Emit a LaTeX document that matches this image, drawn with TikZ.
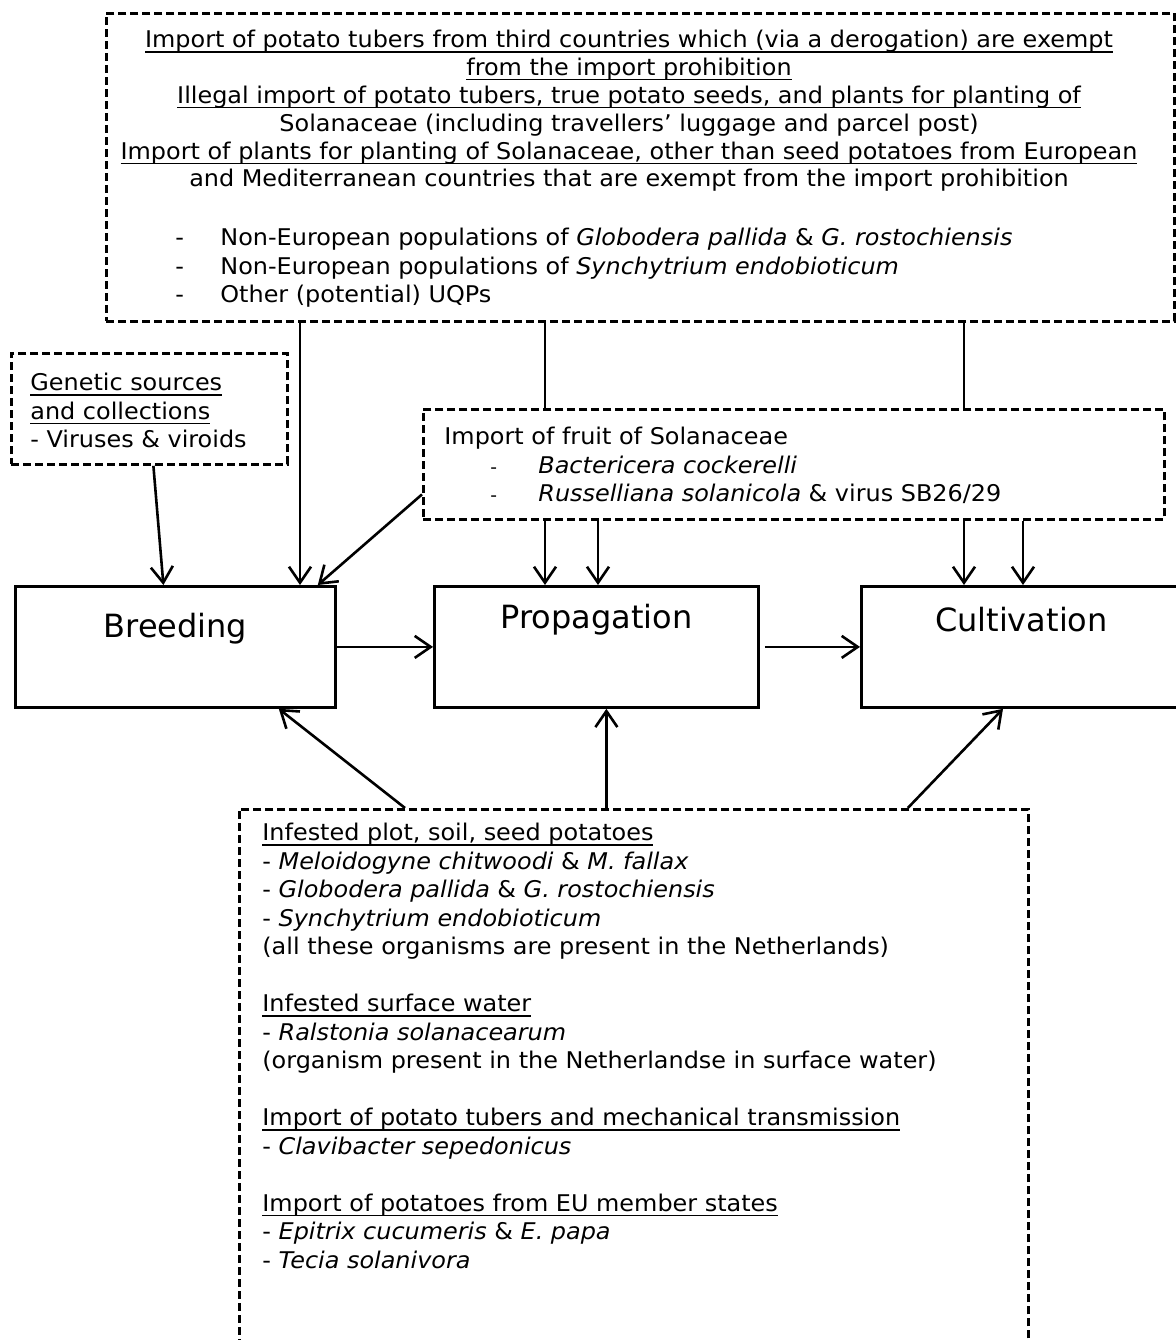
\documentclass[tikz,border=0pt]{standalone}
\usepackage{fontspec}
\setmainfont{DejaVu Sans}
\newfontfamily\bodyfam{DejaVu Sans}[FakeStretch=1.04]
\usetikzlibrary{arrows.meta,positioning}

\newcommand{\body}{\bodyfam\fontsize{11.5}{14.25}\selectfont}
\newcommand{\headbody}{\bodyfam\fontsize{11.5}{13.9}\selectfont}
\newcommand{\stagefont}{\fontsize{16}{19}\selectfont}
\newcommand{\listdash}{\makebox[22.5pt][l]{-}}
\newcommand{\fruitdash}{\hspace*{23pt}\makebox[24pt][l]{\small -}}
\newcommand{\undl}[1]{\setbox0\hbox{#1}\rlap{\rule[-2.4pt]{\wd0}{0.6pt}}\box0}

\tikzset{
  src/.style={draw, line width=1.4pt, dash pattern=on 4pt off 2pt, inner sep=0pt},
  stage/.style={draw, line width=1.4pt, inner sep=0pt},
  txt/.style={inner sep=0pt, font=\body},
  flow/.style={line width=1.3pt, -{Straight Barb[length=8pt,width=11pt,line width=1.3pt]}},
  feed/.style={line width=1.3pt}
}

\begin{document}
\begin{tikzpicture}[x=0.5pt, y=-0.5pt]
\clip (0,0) rectangle (1176,1340);
% import from third countries
\node[src, anchor=north west, minimum width=534pt, minimum height=154pt] (imp) at (105,12) {};
\node[txt, font=\headbody, anchor=north, align=center] (imptxt) at (629,30) {\undl{Import of potato tubers from third countries which (via a derogation) are exempt}\\
\undl{from the import prohibition}\\
\undl{Illegal import of potato tubers, true potato seeds, and plants for planting of}\\
Solanaceae (including travellers’ luggage and parcel post)\\
\undl{Import of plants for planting of Solanaceae, other than seed potatoes from European}\\
and Mediterranean countries that are exempt from the import prohibition};
\node[txt, anchor=north west, align=left] (implist) at (175,228) {\listdash Non-European populations of \textit{Globodera pallida} \& \textit{G. rostochiensis}\\
\listdash Non-European populations of \textit{Synchytrium endobioticum}\\
\listdash Other (potential) UQPs};
% genetic sources
\node[src, anchor=north west, minimum width=138pt, minimum height=55.5pt] (gen) at (10,352) {};
\node[txt, anchor=north west, align=left] (gentxt) at (30,373) {\undl{Genetic sources}\\
\undl{and collections}\\
- Viruses \& viroids};
% fruit import
\node[src, anchor=north west, minimum width=370.5pt, minimum height=55pt] (fruit) at (422,408) {};
\node[txt, anchor=north west, align=left] (fruittxt) at (444,427) {Import of fruit of Solanaceae\\
\fruitdash\textit{Bactericera cockerelli}\\
\fruitdash\textit{Russelliana solanicola} \& virus SB26/29};
% chain
\node[stage, anchor=north west, minimum width=160pt, minimum height=60.5pt] (breed) at (14,585) {};
\node[stage, anchor=north west, minimum width=162pt, minimum height=60.5pt] (prop) at (433,585) {};
\node[stage, anchor=north west, minimum width=160pt, minimum height=60.5pt] (cult) at (860,585) {};
\node[inner sep=0pt, font=\stagefont] (breedlbl) at ([yshift=9.25pt]breed.center) {Breeding};
\node[inner sep=0pt, font=\stagefont] (proplbl) at ([yshift=13.75pt]prop.center) {Propagation};
\node[inner sep=0pt, font=\stagefont] (cultlbl) at ([yshift=13.75pt]cult.center) {Cultivation};
% infested sources
\node[src, anchor=north west, minimum width=394.5pt, minimum height=290pt] (inf) at (238,808) {};
\node[txt, anchor=north west, align=left] (inftxt) at (262,823) {\undl{Infested plot, soil, seed potatoes}\\
- \textit{Meloidogyne chitwoodi} \& \textit{M. fallax}\\
- \textit{Globodera pallida} \& \textit{G. rostochiensis}\\
- \textit{Synchytrium endobioticum}\\
(all these organisms are present in the Netherlands)\\
~\\
\undl{Infested surface water}\\
- \textit{Ralstonia solanacearum}\\
(organism present in the Netherlandse in surface water)\\
~\\
\undl{Import of potato tubers and mechanical transmission}\\
- \textit{Clavibacter sepedonicus}\\
~\\
\undl{Import of potatoes from EU member states}\\
- \textit{Epitrix cucumeris} \& \textit{E. papa}\\
- \textit{Tecia solanivora}};
% connectors
\coordinate (xa) at (300,0);
\coordinate (xb) at (545,0);
\coordinate (xc) at (598,0);
\coordinate (xd) at (964,0);
\coordinate (xe) at (1023,0);
\draw[flow] (imp.south -| xa) -- (breed.north -| xa);
\draw[feed] (imp.south -| xb) -- (fruit.north -| xb);
\draw[feed] (imp.south -| xd) -- (fruit.north -| xd);
\draw[flow] (fruit.south -| xb) -- (prop.north -| xb);
\draw[flow] (fruit.south -| xc) -- (prop.north -| xc);
\draw[flow] (fruit.south -| xd) -- (cult.north -| xd);
\draw[flow] (fruit.south -| xe) -- (cult.north -| xe);
\draw[flow] ([yshift=-15pt]fruit.west) -- ([xshift=-9.5pt]breed.north east);
\draw[flow] ([xshift=2pt]gen.south) -- ([xshift=-6pt]breed.north);
\draw[flow] (breed.east) -- (prop.west);
\draw[flow] ([xshift=2.5pt]prop.east) -- (cult.west);
\draw[flow] ([xshift=83.5pt]inf.north west) -- ([xshift=-29pt]breed.south east);
\draw[flow] ([xshift=5pt]inf.north -| prop.south) -- ([xshift=5pt]prop.south);
\draw[flow] ([xshift=-61pt]inf.north east) -- ([xshift=71.5pt]cult.south west);
\end{tikzpicture}
\end{document}
